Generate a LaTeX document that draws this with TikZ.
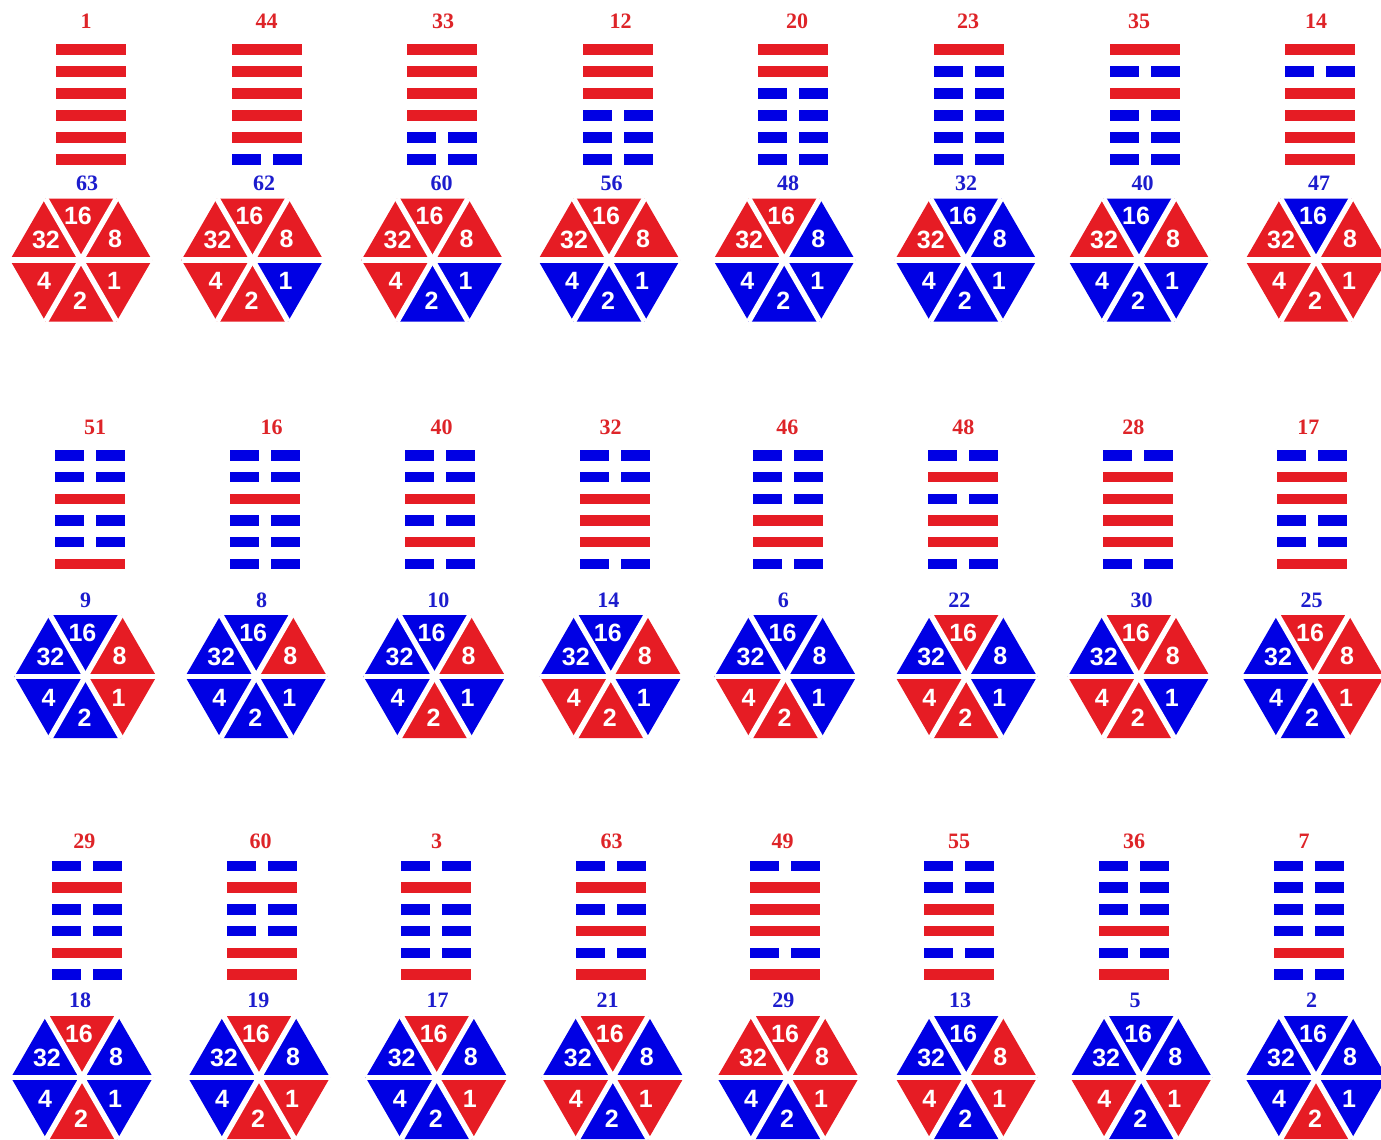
\documentclass[tikz,border=0pt]{standalone}
\usepackage{fontspec}
\setmainfont{Liberation Serif}
\newfontfamily\hxsans{Liberation Sans}
\definecolor{hred}{RGB}{230,28,36}
\definecolor{hblue}{RGB}{0,0,228}
\definecolor{tred}{RGB}{222,36,40}
\definecolor{tblue}{RGB}{28,28,205}
\tikzset{
  rednum/.style={text=tred,inner sep=0pt,font=\fontsize{22}{22}\selectfont\bfseries},
  bluenum/.style={text=tblue,inner sep=0pt,font=\fontsize{22}{22}\selectfont\bfseries},
  tlab/.style={text=white,inner sep=0pt,font=\hxsans\fontsize{25}{25}\selectfont\bfseries},
  yang/.style={fill=hred},
  yin/.style={fill=hblue},
  gapline/.style={draw=white,line width=5.5pt}
}
\newcount\cellno
\newcommand{\hxline}[2]{%
  \pgfmathsetmacro\hxYY{\hxLY+#2*\hxLS}%
  \ifnum#1=1\relax
    \fill[yang] (\hxLX-35,\hxYY-5.25) rectangle (\hxLX+35,\hxYY+5.25);
  \else
    \fill[yin] (\hxLX-35,\hxYY-5.25) rectangle (\hxLX-6,\hxYY+5.25);
    \fill[yin] (\hxLX+6,\hxYY-5.25) rectangle (\hxLX+35,\hxYY+5.25);
  \fi}
\newcommand{\hxdrawlines}[6]{\hxline{#1}{0}\hxline{#2}{1}\hxline{#3}{2}\hxline{#4}{3}\hxline{#5}{4}\hxline{#6}{5}}
\newcommand{\hxtri}[3]{%
  \ifnum#1=1\relax\def\hxcol{hred}\else\def\hxcol{hblue}\fi
  \fill[\hxcol] (0,0) -- #2 -- #3 -- cycle;}
\newcommand{\hxdrawhex}[6]{%
  \hxtri{#1}{(-71,0)}{(-35.5,-61.5)}%
  \hxtri{#2}{(-35.5,-61.5)}{(35.5,-61.5)}%
  \hxtri{#3}{(35.5,-61.5)}{(71,0)}%
  \hxtri{#4}{(-71,0)}{(-35.5,61.5)}%
  \hxtri{#5}{(-35.5,61.5)}{(35.5,61.5)}%
  \hxtri{#6}{(35.5,61.5)}{(71,0)}%
  \draw[gapline] (-71,0) -- (71,0);
  \draw[gapline] (-35.5,-61.5) -- (35.5,61.5);
  \draw[gapline] (35.5,-61.5) -- (-35.5,61.5);
  \node[tlab] (lab\the\cellno a) at (-35,-20) {32};
  \node[tlab] (lab\the\cellno b) at (-3,-44) {16};
  \node[tlab] (lab\the\cellno c) at (34,-21) {8};
  \node[tlab] (lab\the\cellno d) at (-37,21) {4};
  \node[tlab] (lab\the\cellno e) at (-1,41) {2};
  \node[tlab] (lab\the\cellno f) at (33,21) {1};}
% #1 row, #2 lines x, #3 hex x, #4 red num x, #5 blue num x, #6 red label, #7 blue label, #8 line bits, #9 hex bits (32,16,8,4,2,1)
\newcommand{\hexcell}[9]{%
  \global\advance\cellno by 1
  \ifcase#1\or
    \def\hxRY{21.7}\def\hxLY{49.7}\def\hxLS{21.97}\def\hxBY{183}\def\hxHY{260}%
  \or
    \def\hxRY{427.5}\def\hxLY{455.5}\def\hxLS{21.66}\def\hxBY{600}\def\hxHY{676.5}%
  \or
    \def\hxRY{841.7}\def\hxLY{866}\def\hxLS{21.7}\def\hxBY{1000.5}\def\hxHY{1077.5}%
  \fi
  \def\hxLX{#2}%
  \node[rednum] (top\the\cellno) at (#4,\hxRY) {#6};
  \node[bluenum] (bot\the\cellno) at (#5,\hxBY) {#7};
  \hxdrawlines#8%
  \begin{scope}[shift={(#3,\hxHY)}]
    \hxdrawhex#9%
  \end{scope}}
\begin{document}
\begin{tikzpicture}[x=1pt,y=-1pt]
\useasboundingbox (0,0) rectangle (1381,1140);
\clip (0,0) rectangle (1381,1140);
\fill[white] (0,0) rectangle (1381,1140);
% Row 1
\hexcell{1}{90.5}{81}{86}{87}{1}{63}{111111}{111111}
\hexcell{1}{266.5}{252.5}{266.7}{264}{44}{62}{111110}{111110}
\hexcell{1}{442}{432.5}{443}{441.7}{33}{60}{111100}{111100}
\hexcell{1}{617.7}{609}{620.7}{611.7}{12}{56}{111000}{111000}
\hexcell{1}{793.3}{784.2}{797}{788}{20}{48}{110000}{110000}
\hexcell{1}{969}{965.8}{968}{966}{23}{32}{100000}{100000}
\hexcell{1}{1144.7}{1139}{1139}{1142.7}{35}{40}{101000}{101000}
\hexcell{1}{1320.3}{1316}{1316}{1319}{14}{47}{101111}{101111}
% Row 2
\hexcell{2}{90.3}{85.5}{95}{85.7}{51}{9}{001001}{001001}
\hexcell{2}{264.7}{256.2}{271.7}{261.7}{16}{8}{001000}{001000}
\hexcell{2}{439.7}{434.5}{441.7}{438.3}{40}{10}{001010}{001010}
\hexcell{2}{614.7}{610.8}{610.7}{608.3}{32}{14}{001110}{001110}
\hexcell{2}{788}{785.5}{787.3}{783.3}{46}{6}{000110}{000110}
\hexcell{2}{962.8}{966.2}{963.3}{959.3}{48}{22}{010110}{010110}
\hexcell{2}{1137.8}{1138.8}{1133.3}{1141.7}{28}{30}{011110}{011110}
\hexcell{2}{1312}{1313}{1308.3}{1311.7}{17}{25}{011001}{011001}
% Row 3
\hexcell{3}{86.5}{82}{84.3}{80}{29}{18}{010010}{010010}
\hexcell{3}{261.5}{259}{260.7}{258.3}{60}{19}{010011}{010011}
\hexcell{3}{436.2}{436.7}{436.7}{437.7}{3}{17}{010001}{010001}
\hexcell{3}{610.7}{612.8}{611.7}{607.7}{63}{21}{010101}{010101}
\hexcell{3}{784.5}{788}{782.7}{783.3}{49}{29}{011101}{111001}
\hexcell{3}{959.2}{966.2}{959}{960}{55}{13}{001101}{001101}
\hexcell{3}{1134}{1141.2}{1134}{1135}{36}{5}{000101}{000101}
\hexcell{3}{1308.7}{1316}{1304}{1311.7}{7}{2}{000010}{000010}
\end{tikzpicture}
\end{document}
